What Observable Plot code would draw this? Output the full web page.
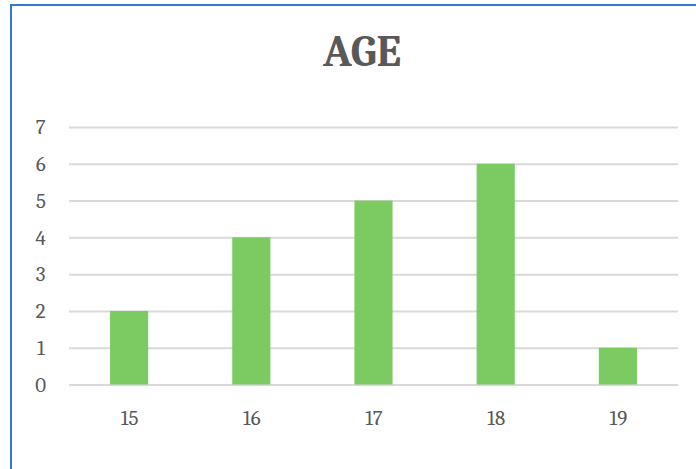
<!DOCTYPE html>
<html>
<head>
<meta charset="utf-8">
<script src="https://cdn.jsdelivr.net/npm/d3@7"></script>
<script src="https://cdn.jsdelivr.net/npm/@observablehq/plot@0.6"></script>
<style>
  html, body { margin: 0; padding: 0; background: #fff; }
  #wrap { position: relative; width: 696px; height: 469px; overflow: hidden; }
  #frame { position: absolute; left: 10px; top: 4px; width: 700px; height: 480px;
           border-left: 2px solid #2F7AD3; border-top: 2px solid #2F7AD3; box-sizing: border-box; }
  #title { position: absolute; left: 0; width: 724px; top: 26px; text-align: center;
           font-family: Cambria, "Liberation Serif", serif; font-weight: bold; font-size: 44px;
           color: #595959; line-height: 52px; }
  #chart { position: absolute; left: 0; top: 0; }
</style>
</head>
<body>
<div id="wrap">
  <div id="frame"></div>
  <div id="chart"></div>
  <div id="title">AGE</div>
</div>
<script>
const ages = ["15", "16", "17", "18", "19"];
const counts = [2, 4, 5, 6, 1];
const yTicks = [0, 1, 2, 3, 4, 5, 6, 7];

const data = ages.map((a, i) => ({age: a, count: counts[i]}));

const chart = Plot.plot({
  width: 696,
  height: 469,
  marginTop: 127,
  marginBottom: 84.5,
  marginLeft: 69,
  marginRight: 18,
  style: {fontFamily: 'Cambria, "Liberation Serif", serif', fontSize: "21px", color: "#595959", background: "transparent"},
  x: {domain: ages, paddingInner: 0.688, paddingOuter: 0.336, round: false, label: null},
  y: {domain: [0, 7], label: null},
  marks: [
    Plot.gridY(yTicks, {stroke: "#d9d9d9", strokeOpacity: 1, strokeWidth: 2}),
    Plot.barY(data, {x: "age", y: "count", fill: "#7CCA62"}),
    Plot.axisY(yTicks, {tickSize: 0, tickPadding: 23, fontSize: 21, fill: "#595959", label: null}),
    Plot.axisX({tickSize: 0, tickPadding: 25, fontSize: 21, fill: "#595959", label: null})
  ]
});
document.getElementById("chart").appendChild(chart);
</script>
</body>
</html>
